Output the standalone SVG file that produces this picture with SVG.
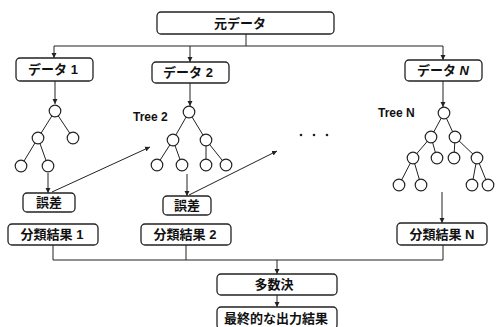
<svg xmlns="http://www.w3.org/2000/svg" width="498" height="327" viewBox="0 0 498 327">
<style>
.box{fill:#fff;stroke:#222;stroke-width:1.3}
.lbl{font-family:'Liberation Sans','Noto Sans CJK JP',sans-serif;font-weight:bold;font-size:13px;fill:#111;text-anchor:middle}
.tl{font-family:'Liberation Sans',sans-serif;font-weight:bold;font-size:12px;fill:#111}
.c{fill:#fff;stroke:#222;stroke-width:1.2}
.e{stroke:#222;stroke-width:1;fill:none}
.ln{stroke:#222;stroke-width:1;fill:none}
</style>
<defs>
<marker id="ah" markerWidth="6" markerHeight="6" refX="5" refY="3" orient="auto" markerUnits="userSpaceOnUse">
<path d="M0,0.5 L5,3 L0,5.5 Z" fill="#222"/>
</marker>
</defs>
<rect width="498" height="327" fill="#fff"/>
<g id="connectors">
<path class="ln" d="M246,34 V46"/>
<path class="ln" d="M54,46 H443"/>
<path class="ln" d="M54,46 V58" marker-end="url(#ah)"/>
<path class="ln" d="M190,46 V62" marker-end="url(#ah)"/>
<path class="ln" d="M443,46 V60" marker-end="url(#ah)"/>
<path class="ln" d="M55,81 V104" marker-end="url(#ah)"/>
<path class="ln" d="M190,83 V106" marker-end="url(#ah)"/>
<path class="ln" d="M443,81 V107" marker-end="url(#ah)"/>
<path class="ln" d="M48,173 V193" marker-end="url(#ah)"/>
<path class="ln" d="M187,174 V196" marker-end="url(#ah)"/>
<path class="ln" d="M442,192 V223" marker-end="url(#ah)"/>
<path class="ln" d="M52,192 L150,147" marker-end="url(#ah)"/>
<path class="ln" d="M189,195 L277,151" marker-end="url(#ah)"/>
<path class="ln" d="M53,245 V260 H443 V245"/>
<path class="ln" d="M186,245 V260"/>
<path class="ln" d="M277,260 V274" marker-end="url(#ah)"/>
<path class="ln" d="M277,295 V307" marker-end="url(#ah)"/>
</g>
<g id="n-moto"><rect class="box" x="157" y="12" width="177" height="22" rx="4"/><text class="lbl" x="240" y="28">元データ</text></g>
<g id="n-data1"><rect class="box" x="16" y="58" width="77" height="23" rx="4"/><text class="lbl" x="53" y="74">データ 1</text></g>
<g id="n-data2"><rect class="box" x="152" y="62" width="77" height="21" rx="4"/><text class="lbl" x="188" y="77">データ 2</text></g>
<g id="n-dataN"><rect class="box" x="405" y="60" width="77" height="21" rx="4"/><text class="lbl" x="443" y="75">データ <tspan font-style="italic">N</tspan></text></g>
<g id="tree1">
<path class="e" d="M55,111 L38,138 M55,111 L73,138 M38,138 L21,166 M38,138 L48,166"/>
<circle class="c" cx="55" cy="111" r="5.8"/><circle class="c" cx="38" cy="138" r="5.8"/><circle class="c" cx="73" cy="138" r="5.8"/>
<circle class="c" cx="21" cy="166" r="5.8"/><circle class="c" cx="48" cy="166" r="5.8"/>
</g>
<g id="tree2">
<text class="tl" x="133" y="121">Tree 2</text>
<path class="e" d="M189,112 L173,140 M189,112 L206,140 M173,140 L157,165 M173,140 L182,165 M206,140 L206,165 M206,140 L226,165"/>
<circle class="c" cx="189" cy="112" r="5.8"/><circle class="c" cx="173" cy="140" r="5.8"/><circle class="c" cx="206" cy="140" r="5.8"/>
<circle class="c" cx="157" cy="165" r="5.8"/><circle class="c" cx="182" cy="165" r="5.8"/><circle class="c" cx="206" cy="165" r="5.8"/><circle class="c" cx="226" cy="165" r="5.8"/>
</g>
<g id="dots"><circle cx="301" cy="135" r="1.3" fill="#222"/><circle cx="314" cy="135" r="1.3" fill="#222"/><circle cx="327" cy="135" r="1.3" fill="#222"/></g>
<g id="treeN">
<text class="tl" x="378" y="117">Tree N</text>
<path class="e" d="M444,113 L431,137 M444,113 L455,137 M431,137 L413,158 M431,137 L437,158 M455,137 L454,158 M455,137 L477,158 M413,158 L399,185 M413,158 L421,185 M477,158 L472,185 M477,158 L488,185"/>
<circle class="c" cx="444" cy="113" r="5.8"/><circle class="c" cx="431" cy="137" r="5.8"/><circle class="c" cx="455" cy="137" r="5.8"/>
<circle class="c" cx="413" cy="158" r="5.8"/><circle class="c" cx="437" cy="158" r="5.8"/><circle class="c" cx="454" cy="158" r="5.8"/><circle class="c" cx="477" cy="158" r="5.8"/>
<circle class="c" cx="399" cy="185" r="5.8"/><circle class="c" cx="421" cy="185" r="5.8"/><circle class="c" cx="472" cy="185" r="5.8"/><circle class="c" cx="488" cy="185" r="5.8"/>
</g>
<g id="n-gosa1"><rect class="box" x="23" y="193" width="52" height="19" rx="4"/><text class="lbl" x="49" y="207">誤差</text></g>
<g id="n-gosa2"><rect class="box" x="163" y="196" width="48" height="19" rx="4"/><text class="lbl" x="187" y="210">誤差</text></g>
<g id="n-res1"><rect class="box" x="8" y="224" width="90" height="21" rx="4"/><text class="lbl" x="52" y="239">分類結果 1</text></g>
<g id="n-res2"><rect class="box" x="141" y="224" width="90" height="21" rx="4"/><text class="lbl" x="185" y="239">分類結果 2</text></g>
<g id="n-resN"><rect class="box" x="397" y="223" width="90" height="22" rx="4"/><text class="lbl" x="442" y="239">分類結果 N</text></g>
<g id="n-vote"><rect class="box" x="217" y="274" width="120" height="21" rx="4"/><text class="lbl" x="274" y="289">多数決</text></g>
<g id="n-final"><rect class="box" x="217" y="307" width="120" height="22" rx="4"/><text class="lbl" x="276" y="323">最終的な出力結果</text></g>
</svg>
